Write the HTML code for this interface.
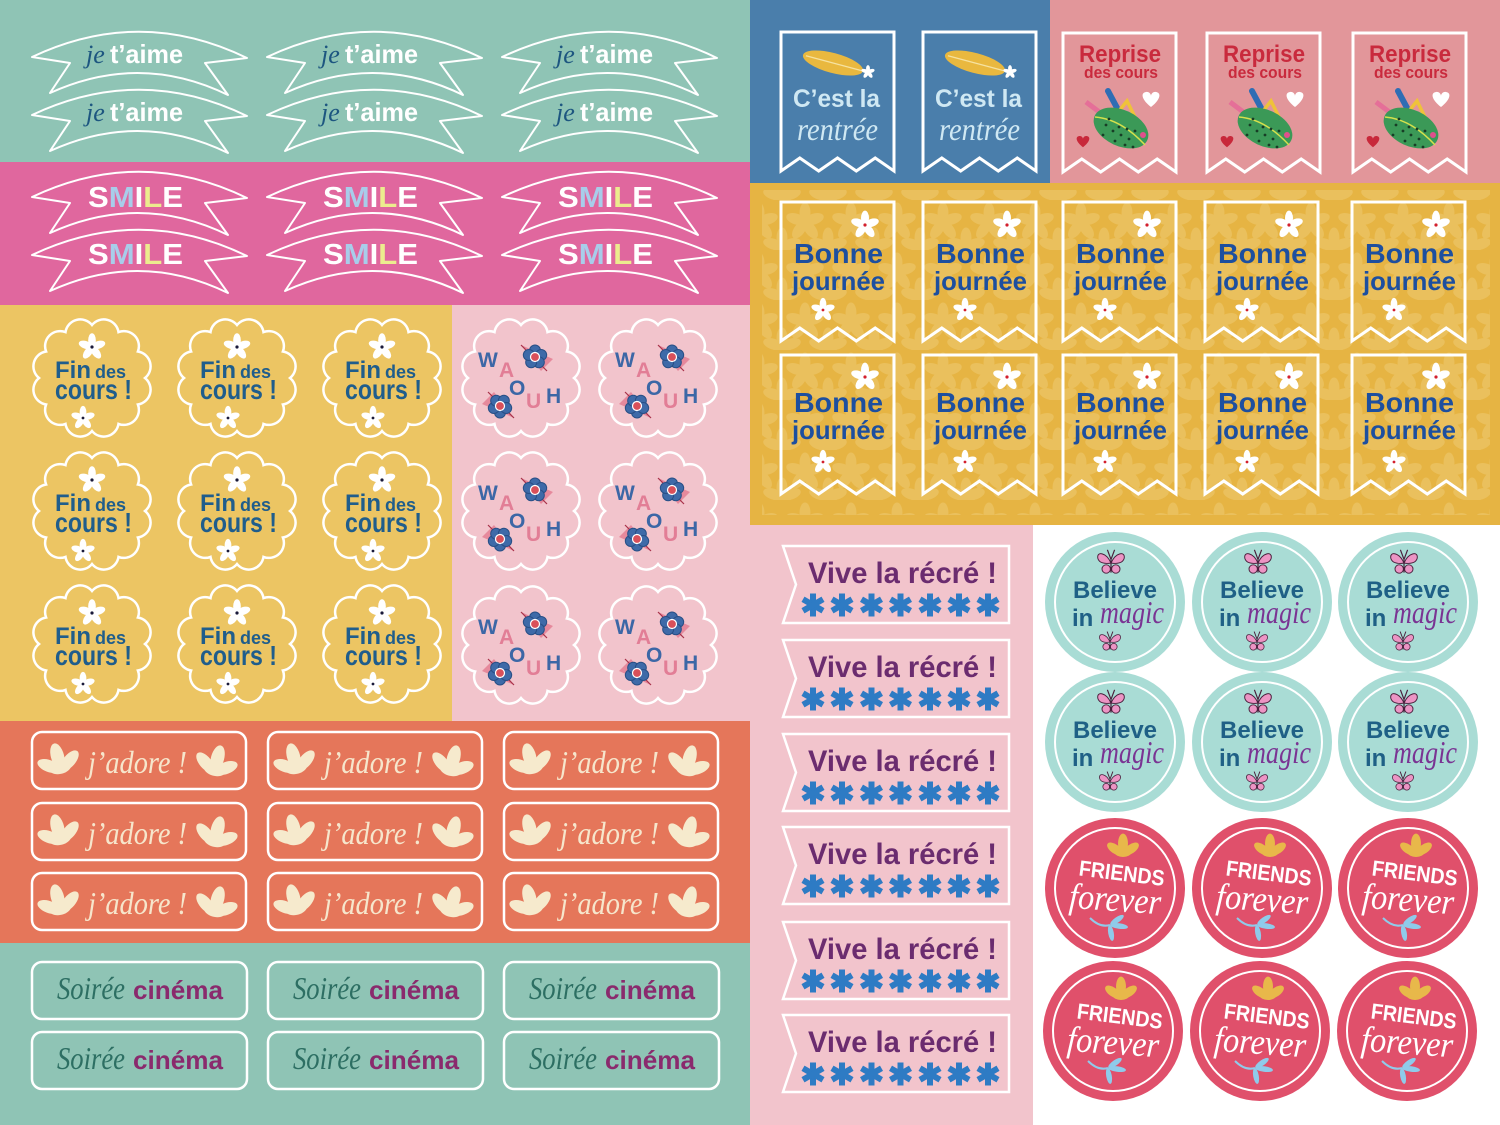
<!DOCTYPE html>
<html><head><meta charset="utf-8"><style>
html,body{margin:0;padding:0;background:#fff}
svg{display:block}
text{font-family:"Liberation Sans",sans-serif}
.b{font-weight:bold}
.s{font-family:"Liberation Serif",serif;font-style:italic}
</style></head><body>
<svg width="1500" height="1125" viewBox="0 0 1500 1125" xmlns="http://www.w3.org/2000/svg" xmlns:xlink="http://www.w3.org/1999/xlink">
<defs>
<path id="ban" d="M32,57 Q140,6 247,58 L205,63 L228,95 Q140,52 50,93 L70,63 Z" fill="none" stroke="#fff" stroke-width="2" stroke-linejoin="round"/>
<path id="sc" d="M53,0 A15,15 0 0 1 45.9,26.5 A15,15 0 0 1 26.5,45.9 A15,15 0 0 1 0,53 A15,15 0 0 1 -26.5,45.9 A15,15 0 0 1 -45.9,26.5 A15,15 0 0 1 -53,0 A15,15 0 0 1 -45.9,-26.5 A15,15 0 0 1 -26.5,-45.9 A15,15 0 0 1 0,-53 A15,15 0 0 1 26.5,-45.9 A15,15 0 0 1 45.9,-26.5 A15,15 0 0 1 53,0 Z" fill="none" stroke="#fff" stroke-width="2.5"/>
<g id="pet">
<ellipse cx="0" cy="-5.5" rx="3.2" ry="6"/>
<ellipse cx="0" cy="-5.5" rx="3.2" ry="6" transform="rotate(72)"/>
<ellipse cx="0" cy="-5.5" rx="3.2" ry="6" transform="rotate(144)"/>
<ellipse cx="0" cy="-5.5" rx="3.2" ry="6" transform="rotate(216)"/>
<ellipse cx="0" cy="-5.5" rx="3.2" ry="6" transform="rotate(288)"/>
</g>
<path id="tag" d="M0,0 H113 V139 L94.2,126 L75.3,139 L56.5,126 L37.7,139 L18.8,126 L0,139 Z" stroke="#fff" stroke-width="3"/>
<g id="lf">
<ellipse cx="0" cy="-5" rx="5.5" ry="11"/>
<ellipse cx="-9" cy="1" rx="5" ry="10" transform="rotate(-55 -9 1)"/>
<ellipse cx="9" cy="1" rx="5" ry="10" transform="rotate(55 9 1)"/>
<ellipse cx="0" cy="5" rx="9" ry="5"/>
</g>
<g id="bf">
<path d="M-14,-12 L18,2 L6,14 Z" fill="#e6899c"/>
<line x1="-14" y1="-12" x2="12" y2="14" stroke="#a8324a" stroke-width="1.2"/>
<g fill="#3e6aa8" stroke="#284f86" stroke-width="1">
<circle cx="0" cy="-6.5" r="5.5"/><circle cx="6.18" cy="-2.01" r="5.5"/><circle cx="3.82" cy="5.26" r="5.5"/><circle cx="-3.82" cy="5.26" r="5.5"/><circle cx="-6.18" cy="-2.01" r="5.5"/>
</g>
<circle r="4.5" fill="#d9505a" stroke="#fff" stroke-width="1.2"/>
</g>
<g id="ast" stroke="#2e7bc4" stroke-width="6"><line x1="0" y1="-11.5" x2="0" y2="11.5"/><line x1="-10" y1="-5.75" x2="10" y2="5.75"/><line x1="-10" y1="5.75" x2="10" y2="-5.75"/></g>
<g id="bt" fill="#ec94c4" stroke="#4a1f3c" stroke-width="0.8">
<path d="M0,0 C-4,-9 -12,-10 -11,-4 C-10,0 -5,1 0,0 Z"/>
<path d="M0,0 C4,-9 12,-10 11,-4 C10,0 5,1 0,0 Z"/>
<circle cx="-4" cy="5" r="3.5"/><circle cx="4" cy="5" r="3.5"/>
<path d="M0,-3 L0,8 M0,-3 L-3,-11 M0,-3 L3,-11" fill="none" stroke-width="1"/>
</g>
<g id="bl" fill="#8fcbea">
<path d="M-20,-7 Q-10,3 0,0" fill="none" stroke="#8fcbea" stroke-width="2"/>
<ellipse cx="7" cy="-5" rx="8" ry="2.8" transform="rotate(-35 7 -5)"/>
<ellipse cx="9" cy="1" rx="9" ry="2.8" transform="rotate(8 9 1)"/>
<ellipse cx="1" cy="8" rx="8" ry="2.8" transform="rotate(80 1 8)"/>
</g>
<path id="hrt" d="M0,7 C-9,0 -11,-7 -5,-8 C-2,-8.5 0,-6 0,-4 C0,-6 2,-8.5 5,-8 C11,-7 9,0 0,7 Z"/>
<g id="pc">
<line x1="-35" y1="-23" x2="-15" y2="-8" stroke="#e56f98" stroke-width="5"/>
<line x1="-13" y1="-34" x2="2" y2="-6" stroke="#2f6db4" stroke-width="6" stroke-linecap="round"/>
<path d="M-10,-4 L6,-24 L16,-4" fill="none" stroke="#efc23a" stroke-width="3.5"/>
<ellipse cx="0" cy="3" rx="29" ry="18" transform="rotate(25 0 3)" fill="#3b9957"/>
<path d="M-26,-8 Q0,-6 24,20" fill="none" stroke="#d6e04c" stroke-width="1.5"/>
<g fill="#173d26"><circle cx="-15" cy="0" r="1.4"/><circle cx="-8" cy="6" r="1.4"/><circle cx="0" cy="10" r="1.4"/><circle cx="8" cy="14" r="1.4"/><circle cx="-18" cy="10" r="1.4"/><circle cx="-6" cy="16" r="1.4"/><circle cx="4" cy="20" r="1.4"/><circle cx="-2" cy="2" r="1.4"/><circle cx="6" cy="4" r="1.4"/><circle cx="14" cy="6" r="1.4"/><circle cx="-12" cy="-6" r="1.4"/><circle cx="12" cy="22" r="1.4"/></g>
<circle cx="22" cy="10" r="3" fill="#e0508c"/>
</g>
<pattern id="palm" width="46" height="50" patternUnits="userSpaceOnUse">
<g fill="#f0cf7c" opacity="0.45">
<use href="#pet" transform="translate(23,22) scale(1.7)"/>
<use href="#pet" transform="translate(0,47) scale(1.7)"/>
<use href="#pet" transform="translate(46,47) scale(1.7)"/>
</g>
</pattern>
</defs>

<!-- backgrounds -->
<rect x="0" y="0" width="750" height="162" fill="#8fc4b5"/>
<rect x="0" y="162" width="750" height="143" fill="#e0679e"/>
<rect x="0" y="305" width="452" height="416" fill="#ecc563"/>
<rect x="452" y="305" width="298" height="416" fill="#f2c4cc"/>
<rect x="0" y="721" width="750" height="222" fill="#e5765a"/>
<rect x="0" y="943" width="750" height="182" fill="#8fc4b5"/>
<rect x="750" y="0" width="300" height="183" fill="#4a7eab"/>
<rect x="1050" y="0" width="450" height="183" fill="#e2969a"/>
<rect x="750" y="183" width="750" height="342" fill="#e6b443"/>
<rect x="762" y="190" width="728" height="325" fill="url(#palm)"/>
<rect x="750" y="525" width="283" height="600" fill="#f2c4cc"/>
<rect x="1033" y="525" width="467" height="600" fill="#ffffff"/>

<!-- je t'aime -->
<use href="#ban" x="0" y="0"/><use href="#ban" x="235" y="0"/><use href="#ban" x="470" y="0"/>
<use href="#ban" x="0" y="58"/><use href="#ban" x="235" y="58"/><use href="#ban" x="470" y="58"/>
<text class="s" x="86" y="63" font-size="26" fill="#1d5680">je</text>
<text class="b" x="110" y="63" font-size="26" fill="#fff" textLength="73" lengthAdjust="spacingAndGlyphs">t’aime</text>
<text class="s" x="321" y="63" font-size="26" fill="#1d5680">je</text>
<text class="b" x="345" y="63" font-size="26" fill="#fff" textLength="73" lengthAdjust="spacingAndGlyphs">t’aime</text>
<text class="s" x="556" y="63" font-size="26" fill="#1d5680">je</text>
<text class="b" x="580" y="63" font-size="26" fill="#fff" textLength="73" lengthAdjust="spacingAndGlyphs">t’aime</text>
<text class="s" x="86" y="121" font-size="26" fill="#1d5680">je</text>
<text class="b" x="110" y="121" font-size="26" fill="#fff" textLength="73" lengthAdjust="spacingAndGlyphs">t’aime</text>
<text class="s" x="321" y="121" font-size="26" fill="#1d5680">je</text>
<text class="b" x="345" y="121" font-size="26" fill="#fff" textLength="73" lengthAdjust="spacingAndGlyphs">t’aime</text>
<text class="s" x="556" y="121" font-size="26" fill="#1d5680">je</text>
<text class="b" x="580" y="121" font-size="26" fill="#fff" textLength="73" lengthAdjust="spacingAndGlyphs">t’aime</text>

<!-- SMILE -->
<use href="#ban" x="0" y="140"/><use href="#ban" x="235" y="140"/><use href="#ban" x="470" y="140"/>
<use href="#ban" x="0" y="198"/><use href="#ban" x="235" y="198"/><use href="#ban" x="470" y="198"/>
<text class="b" x="88" y="207" font-size="29" textLength="95" lengthAdjust="spacingAndGlyphs"><tspan fill="#fff">S</tspan><tspan fill="#a8cdea">M</tspan><tspan fill="#fff">I</tspan><tspan fill="#ecec8e">L</tspan><tspan fill="#fff">E</tspan></text>
<text class="b" x="323" y="207" font-size="29" textLength="95" lengthAdjust="spacingAndGlyphs"><tspan fill="#fff">S</tspan><tspan fill="#a8cdea">M</tspan><tspan fill="#fff">I</tspan><tspan fill="#ecec8e">L</tspan><tspan fill="#fff">E</tspan></text>
<text class="b" x="558" y="207" font-size="29" textLength="95" lengthAdjust="spacingAndGlyphs"><tspan fill="#fff">S</tspan><tspan fill="#a8cdea">M</tspan><tspan fill="#fff">I</tspan><tspan fill="#ecec8e">L</tspan><tspan fill="#fff">E</tspan></text>
<text class="b" x="88" y="264" font-size="29" textLength="95" lengthAdjust="spacingAndGlyphs"><tspan fill="#fff">S</tspan><tspan fill="#a8cdea">M</tspan><tspan fill="#fff">I</tspan><tspan fill="#ecec8e">L</tspan><tspan fill="#fff">E</tspan></text>
<text class="b" x="323" y="264" font-size="29" textLength="95" lengthAdjust="spacingAndGlyphs"><tspan fill="#fff">S</tspan><tspan fill="#a8cdea">M</tspan><tspan fill="#fff">I</tspan><tspan fill="#ecec8e">L</tspan><tspan fill="#fff">E</tspan></text>
<text class="b" x="558" y="264" font-size="29" textLength="95" lengthAdjust="spacingAndGlyphs"><tspan fill="#fff">S</tspan><tspan fill="#a8cdea">M</tspan><tspan fill="#fff">I</tspan><tspan fill="#ecec8e">L</tspan><tspan fill="#fff">E</tspan></text>

<!-- Fin des cours -->
<g transform="translate(92,378)"><use href="#sc"/><use href="#pet" fill="#fff" transform="translate(0,-31) scale(1.2)"/><circle cx="0" cy="-31" r="1.6" fill="#1a1a3a"/><use href="#pet" fill="#fff" transform="translate(-9,40) scale(1.05)"/><circle cx="-9" cy="40" r="1.4" fill="#1a1a3a"/><text class="b" x="-37" y="0" font-size="24" fill="#1f5d8c">Fin</text><text class="b" x="3" y="0" font-size="18" fill="#1f5d8c">des</text><text class="b" x="-37" y="21" font-size="28" fill="#1f5d8c" textLength="77" lengthAdjust="spacingAndGlyphs">cours !</text></g>
<g transform="translate(237,378)"><use href="#sc"/><use href="#pet" fill="#fff" transform="translate(0,-31) scale(1.2)"/><circle cx="0" cy="-31" r="1.6" fill="#1a1a3a"/><use href="#pet" fill="#fff" transform="translate(-9,40) scale(1.05)"/><circle cx="-9" cy="40" r="1.4" fill="#1a1a3a"/><text class="b" x="-37" y="0" font-size="24" fill="#1f5d8c">Fin</text><text class="b" x="3" y="0" font-size="18" fill="#1f5d8c">des</text><text class="b" x="-37" y="21" font-size="28" fill="#1f5d8c" textLength="77" lengthAdjust="spacingAndGlyphs">cours !</text></g>
<g transform="translate(382,378)"><use href="#sc"/><use href="#pet" fill="#fff" transform="translate(0,-31) scale(1.2)"/><circle cx="0" cy="-31" r="1.6" fill="#1a1a3a"/><use href="#pet" fill="#fff" transform="translate(-9,40) scale(1.05)"/><circle cx="-9" cy="40" r="1.4" fill="#1a1a3a"/><text class="b" x="-37" y="0" font-size="24" fill="#1f5d8c">Fin</text><text class="b" x="3" y="0" font-size="18" fill="#1f5d8c">des</text><text class="b" x="-37" y="21" font-size="28" fill="#1f5d8c" textLength="77" lengthAdjust="spacingAndGlyphs">cours !</text></g>
<g transform="translate(92,511)"><use href="#sc"/><use href="#pet" fill="#fff" transform="translate(0,-31) scale(1.2)"/><circle cx="0" cy="-31" r="1.6" fill="#1a1a3a"/><use href="#pet" fill="#fff" transform="translate(-9,40) scale(1.05)"/><circle cx="-9" cy="40" r="1.4" fill="#1a1a3a"/><text class="b" x="-37" y="0" font-size="24" fill="#1f5d8c">Fin</text><text class="b" x="3" y="0" font-size="18" fill="#1f5d8c">des</text><text class="b" x="-37" y="21" font-size="28" fill="#1f5d8c" textLength="77" lengthAdjust="spacingAndGlyphs">cours !</text></g>
<g transform="translate(237,511)"><use href="#sc"/><use href="#pet" fill="#fff" transform="translate(0,-31) scale(1.2)"/><circle cx="0" cy="-31" r="1.6" fill="#1a1a3a"/><use href="#pet" fill="#fff" transform="translate(-9,40) scale(1.05)"/><circle cx="-9" cy="40" r="1.4" fill="#1a1a3a"/><text class="b" x="-37" y="0" font-size="24" fill="#1f5d8c">Fin</text><text class="b" x="3" y="0" font-size="18" fill="#1f5d8c">des</text><text class="b" x="-37" y="21" font-size="28" fill="#1f5d8c" textLength="77" lengthAdjust="spacingAndGlyphs">cours !</text></g>
<g transform="translate(382,511)"><use href="#sc"/><use href="#pet" fill="#fff" transform="translate(0,-31) scale(1.2)"/><circle cx="0" cy="-31" r="1.6" fill="#1a1a3a"/><use href="#pet" fill="#fff" transform="translate(-9,40) scale(1.05)"/><circle cx="-9" cy="40" r="1.4" fill="#1a1a3a"/><text class="b" x="-37" y="0" font-size="24" fill="#1f5d8c">Fin</text><text class="b" x="3" y="0" font-size="18" fill="#1f5d8c">des</text><text class="b" x="-37" y="21" font-size="28" fill="#1f5d8c" textLength="77" lengthAdjust="spacingAndGlyphs">cours !</text></g>
<g transform="translate(92,644)"><use href="#sc"/><use href="#pet" fill="#fff" transform="translate(0,-31) scale(1.2)"/><circle cx="0" cy="-31" r="1.6" fill="#1a1a3a"/><use href="#pet" fill="#fff" transform="translate(-9,40) scale(1.05)"/><circle cx="-9" cy="40" r="1.4" fill="#1a1a3a"/><text class="b" x="-37" y="0" font-size="24" fill="#1f5d8c">Fin</text><text class="b" x="3" y="0" font-size="18" fill="#1f5d8c">des</text><text class="b" x="-37" y="21" font-size="28" fill="#1f5d8c" textLength="77" lengthAdjust="spacingAndGlyphs">cours !</text></g>
<g transform="translate(237,644)"><use href="#sc"/><use href="#pet" fill="#fff" transform="translate(0,-31) scale(1.2)"/><circle cx="0" cy="-31" r="1.6" fill="#1a1a3a"/><use href="#pet" fill="#fff" transform="translate(-9,40) scale(1.05)"/><circle cx="-9" cy="40" r="1.4" fill="#1a1a3a"/><text class="b" x="-37" y="0" font-size="24" fill="#1f5d8c">Fin</text><text class="b" x="3" y="0" font-size="18" fill="#1f5d8c">des</text><text class="b" x="-37" y="21" font-size="28" fill="#1f5d8c" textLength="77" lengthAdjust="spacingAndGlyphs">cours !</text></g>
<g transform="translate(382,644)"><use href="#sc"/><use href="#pet" fill="#fff" transform="translate(0,-31) scale(1.2)"/><circle cx="0" cy="-31" r="1.6" fill="#1a1a3a"/><use href="#pet" fill="#fff" transform="translate(-9,40) scale(1.05)"/><circle cx="-9" cy="40" r="1.4" fill="#1a1a3a"/><text class="b" x="-37" y="0" font-size="24" fill="#1f5d8c">Fin</text><text class="b" x="3" y="0" font-size="18" fill="#1f5d8c">des</text><text class="b" x="-37" y="21" font-size="28" fill="#1f5d8c" textLength="77" lengthAdjust="spacingAndGlyphs">cours !</text></g>

<!-- WAOUH -->
<g transform="translate(521,378)"><use href="#sc"/><use href="#bf" transform="translate(14,-21)"/><use href="#bf" transform="translate(-21,28) rotate(180)"/><text class="b" font-size="21" fill="#3c67a6" x="-43" y="-11">W</text><text class="b" font-size="21" fill="#e27e96" x="-22" y="-1">A</text><text class="b" font-size="21" fill="#3c67a6" x="-12" y="17">O</text><text class="b" font-size="21" fill="#e27e96" x="5" y="30">U</text><text class="b" font-size="21" fill="#3c67a6" x="25" y="25">H</text></g>
<g transform="translate(658,378)"><use href="#sc"/><use href="#bf" transform="translate(14,-21)"/><use href="#bf" transform="translate(-21,28) rotate(180)"/><text class="b" font-size="21" fill="#3c67a6" x="-43" y="-11">W</text><text class="b" font-size="21" fill="#e27e96" x="-22" y="-1">A</text><text class="b" font-size="21" fill="#3c67a6" x="-12" y="17">O</text><text class="b" font-size="21" fill="#e27e96" x="5" y="30">U</text><text class="b" font-size="21" fill="#3c67a6" x="25" y="25">H</text></g>
<g transform="translate(521,511)"><use href="#sc"/><use href="#bf" transform="translate(14,-21)"/><use href="#bf" transform="translate(-21,28) rotate(180)"/><text class="b" font-size="21" fill="#3c67a6" x="-43" y="-11">W</text><text class="b" font-size="21" fill="#e27e96" x="-22" y="-1">A</text><text class="b" font-size="21" fill="#3c67a6" x="-12" y="17">O</text><text class="b" font-size="21" fill="#e27e96" x="5" y="30">U</text><text class="b" font-size="21" fill="#3c67a6" x="25" y="25">H</text></g>
<g transform="translate(658,511)"><use href="#sc"/><use href="#bf" transform="translate(14,-21)"/><use href="#bf" transform="translate(-21,28) rotate(180)"/><text class="b" font-size="21" fill="#3c67a6" x="-43" y="-11">W</text><text class="b" font-size="21" fill="#e27e96" x="-22" y="-1">A</text><text class="b" font-size="21" fill="#3c67a6" x="-12" y="17">O</text><text class="b" font-size="21" fill="#e27e96" x="5" y="30">U</text><text class="b" font-size="21" fill="#3c67a6" x="25" y="25">H</text></g>
<g transform="translate(521,645)"><use href="#sc"/><use href="#bf" transform="translate(14,-21)"/><use href="#bf" transform="translate(-21,28) rotate(180)"/><text class="b" font-size="21" fill="#3c67a6" x="-43" y="-11">W</text><text class="b" font-size="21" fill="#e27e96" x="-22" y="-1">A</text><text class="b" font-size="21" fill="#3c67a6" x="-12" y="17">O</text><text class="b" font-size="21" fill="#e27e96" x="5" y="30">U</text><text class="b" font-size="21" fill="#3c67a6" x="25" y="25">H</text></g>
<g transform="translate(658,645)"><use href="#sc"/><use href="#bf" transform="translate(14,-21)"/><use href="#bf" transform="translate(-21,28) rotate(180)"/><text class="b" font-size="21" fill="#3c67a6" x="-43" y="-11">W</text><text class="b" font-size="21" fill="#e27e96" x="-22" y="-1">A</text><text class="b" font-size="21" fill="#3c67a6" x="-12" y="17">O</text><text class="b" font-size="21" fill="#e27e96" x="5" y="30">U</text><text class="b" font-size="21" fill="#3c67a6" x="25" y="25">H</text></g>

<!-- j'adore -->
<g transform="translate(32,732)"><rect width="214" height="57" rx="10" fill="none" stroke="#fff" stroke-width="2.5"/><use href="#lf" fill="#f6eacd" transform="translate(27,30) rotate(-15) scale(1.2)"/><use href="#lf" fill="#f6eacd" transform="translate(184,32) rotate(15) scale(1.2)"/><text class="s" x="56" y="41" font-size="32" fill="#f6e6cc" textLength="99" lengthAdjust="spacingAndGlyphs">j’adore !</text></g>
<g transform="translate(268,732)"><rect width="214" height="57" rx="10" fill="none" stroke="#fff" stroke-width="2.5"/><use href="#lf" fill="#f6eacd" transform="translate(27,30) rotate(-15) scale(1.2)"/><use href="#lf" fill="#f6eacd" transform="translate(184,32) rotate(15) scale(1.2)"/><text class="s" x="56" y="41" font-size="32" fill="#f6e6cc" textLength="99" lengthAdjust="spacingAndGlyphs">j’adore !</text></g>
<g transform="translate(504,732)"><rect width="214" height="57" rx="10" fill="none" stroke="#fff" stroke-width="2.5"/><use href="#lf" fill="#f6eacd" transform="translate(27,30) rotate(-15) scale(1.2)"/><use href="#lf" fill="#f6eacd" transform="translate(184,32) rotate(15) scale(1.2)"/><text class="s" x="56" y="41" font-size="32" fill="#f6e6cc" textLength="99" lengthAdjust="spacingAndGlyphs">j’adore !</text></g>
<g transform="translate(32,803)"><rect width="214" height="57" rx="10" fill="none" stroke="#fff" stroke-width="2.5"/><use href="#lf" fill="#f6eacd" transform="translate(27,30) rotate(-15) scale(1.2)"/><use href="#lf" fill="#f6eacd" transform="translate(184,32) rotate(15) scale(1.2)"/><text class="s" x="56" y="41" font-size="32" fill="#f6e6cc" textLength="99" lengthAdjust="spacingAndGlyphs">j’adore !</text></g>
<g transform="translate(268,803)"><rect width="214" height="57" rx="10" fill="none" stroke="#fff" stroke-width="2.5"/><use href="#lf" fill="#f6eacd" transform="translate(27,30) rotate(-15) scale(1.2)"/><use href="#lf" fill="#f6eacd" transform="translate(184,32) rotate(15) scale(1.2)"/><text class="s" x="56" y="41" font-size="32" fill="#f6e6cc" textLength="99" lengthAdjust="spacingAndGlyphs">j’adore !</text></g>
<g transform="translate(504,803)"><rect width="214" height="57" rx="10" fill="none" stroke="#fff" stroke-width="2.5"/><use href="#lf" fill="#f6eacd" transform="translate(27,30) rotate(-15) scale(1.2)"/><use href="#lf" fill="#f6eacd" transform="translate(184,32) rotate(15) scale(1.2)"/><text class="s" x="56" y="41" font-size="32" fill="#f6e6cc" textLength="99" lengthAdjust="spacingAndGlyphs">j’adore !</text></g>
<g transform="translate(32,873)"><rect width="214" height="57" rx="10" fill="none" stroke="#fff" stroke-width="2.5"/><use href="#lf" fill="#f6eacd" transform="translate(27,30) rotate(-15) scale(1.2)"/><use href="#lf" fill="#f6eacd" transform="translate(184,32) rotate(15) scale(1.2)"/><text class="s" x="56" y="41" font-size="32" fill="#f6e6cc" textLength="99" lengthAdjust="spacingAndGlyphs">j’adore !</text></g>
<g transform="translate(268,873)"><rect width="214" height="57" rx="10" fill="none" stroke="#fff" stroke-width="2.5"/><use href="#lf" fill="#f6eacd" transform="translate(27,30) rotate(-15) scale(1.2)"/><use href="#lf" fill="#f6eacd" transform="translate(184,32) rotate(15) scale(1.2)"/><text class="s" x="56" y="41" font-size="32" fill="#f6e6cc" textLength="99" lengthAdjust="spacingAndGlyphs">j’adore !</text></g>
<g transform="translate(504,873)"><rect width="214" height="57" rx="10" fill="none" stroke="#fff" stroke-width="2.5"/><use href="#lf" fill="#f6eacd" transform="translate(27,30) rotate(-15) scale(1.2)"/><use href="#lf" fill="#f6eacd" transform="translate(184,32) rotate(15) scale(1.2)"/><text class="s" x="56" y="41" font-size="32" fill="#f6e6cc" textLength="99" lengthAdjust="spacingAndGlyphs">j’adore !</text></g>

<!-- Soirée cinéma -->
<g transform="translate(32,962)"><rect width="215" height="57" rx="10" fill="none" stroke="#fff" stroke-width="2.5"/><text class="s" x="25" y="37" font-size="32" fill="#2d6f63" textLength="68" lengthAdjust="spacingAndGlyphs">Soirée</text><text class="b" x="101" y="37" font-size="26" fill="#8a2a6d" textLength="90" lengthAdjust="spacingAndGlyphs">cinéma</text></g>
<g transform="translate(268,962)"><rect width="215" height="57" rx="10" fill="none" stroke="#fff" stroke-width="2.5"/><text class="s" x="25" y="37" font-size="32" fill="#2d6f63" textLength="68" lengthAdjust="spacingAndGlyphs">Soirée</text><text class="b" x="101" y="37" font-size="26" fill="#8a2a6d" textLength="90" lengthAdjust="spacingAndGlyphs">cinéma</text></g>
<g transform="translate(504,962)"><rect width="215" height="57" rx="10" fill="none" stroke="#fff" stroke-width="2.5"/><text class="s" x="25" y="37" font-size="32" fill="#2d6f63" textLength="68" lengthAdjust="spacingAndGlyphs">Soirée</text><text class="b" x="101" y="37" font-size="26" fill="#8a2a6d" textLength="90" lengthAdjust="spacingAndGlyphs">cinéma</text></g>
<g transform="translate(32,1032)"><rect width="215" height="57" rx="10" fill="none" stroke="#fff" stroke-width="2.5"/><text class="s" x="25" y="37" font-size="32" fill="#2d6f63" textLength="68" lengthAdjust="spacingAndGlyphs">Soirée</text><text class="b" x="101" y="37" font-size="26" fill="#8a2a6d" textLength="90" lengthAdjust="spacingAndGlyphs">cinéma</text></g>
<g transform="translate(268,1032)"><rect width="215" height="57" rx="10" fill="none" stroke="#fff" stroke-width="2.5"/><text class="s" x="25" y="37" font-size="32" fill="#2d6f63" textLength="68" lengthAdjust="spacingAndGlyphs">Soirée</text><text class="b" x="101" y="37" font-size="26" fill="#8a2a6d" textLength="90" lengthAdjust="spacingAndGlyphs">cinéma</text></g>
<g transform="translate(504,1032)"><rect width="215" height="57" rx="10" fill="none" stroke="#fff" stroke-width="2.5"/><text class="s" x="25" y="37" font-size="32" fill="#2d6f63" textLength="68" lengthAdjust="spacingAndGlyphs">Soirée</text><text class="b" x="101" y="37" font-size="26" fill="#8a2a6d" textLength="90" lengthAdjust="spacingAndGlyphs">cinéma</text></g>

<!-- C'est la rentrée -->
<g transform="translate(781,32)"><use href="#tag" fill="#4a7eab"/><g transform="translate(52,31) rotate(15)"><ellipse rx="31" ry="10" fill="#e9b83f"/><path d="M-28,0 L30,0" stroke="#f6e2a0" stroke-width="1.2"/></g><use href="#pet" fill="#fff" transform="translate(87,40) scale(0.6)"/><text class="b" x="12" y="75" font-size="25" fill="#cfe8f3" textLength="87" lengthAdjust="spacingAndGlyphs">C’est la</text><text class="s" x="16" y="108" font-size="32" fill="#cfe8f3" textLength="81" lengthAdjust="spacingAndGlyphs">rentrée</text></g>
<g transform="translate(923,32)"><use href="#tag" fill="#4a7eab"/><g transform="translate(52,31) rotate(15)"><ellipse rx="31" ry="10" fill="#e9b83f"/><path d="M-28,0 L30,0" stroke="#f6e2a0" stroke-width="1.2"/></g><use href="#pet" fill="#fff" transform="translate(87,40) scale(0.6)"/><text class="b" x="12" y="75" font-size="25" fill="#cfe8f3" textLength="87" lengthAdjust="spacingAndGlyphs">C’est la</text><text class="s" x="16" y="108" font-size="32" fill="#cfe8f3" textLength="81" lengthAdjust="spacingAndGlyphs">rentrée</text></g>

<!-- Reprise des cours -->
<g transform="translate(1063,33)"><use href="#tag" fill="#e2969a"/><text class="b" x="16" y="29" font-size="24" fill="#c92a3d" textLength="82" lengthAdjust="spacingAndGlyphs">Reprise</text><text class="b" x="21" y="45" font-size="17" fill="#c92a3d" textLength="74" lengthAdjust="spacingAndGlyphs">des cours</text><use href="#pc" transform="translate(58,92)"/><use href="#hrt" fill="#fff" transform="translate(88,67)"/><use href="#hrt" fill="#c8283a" transform="translate(20,109) scale(0.75)"/></g>
<g transform="translate(1207,33)"><use href="#tag" fill="#e2969a"/><text class="b" x="16" y="29" font-size="24" fill="#c92a3d" textLength="82" lengthAdjust="spacingAndGlyphs">Reprise</text><text class="b" x="21" y="45" font-size="17" fill="#c92a3d" textLength="74" lengthAdjust="spacingAndGlyphs">des cours</text><use href="#pc" transform="translate(58,92)"/><use href="#hrt" fill="#fff" transform="translate(88,67)"/><use href="#hrt" fill="#c8283a" transform="translate(20,109) scale(0.75)"/></g>
<g transform="translate(1353,33)"><use href="#tag" fill="#e2969a"/><text class="b" x="16" y="29" font-size="24" fill="#c92a3d" textLength="82" lengthAdjust="spacingAndGlyphs">Reprise</text><text class="b" x="21" y="45" font-size="17" fill="#c92a3d" textLength="74" lengthAdjust="spacingAndGlyphs">des cours</text><use href="#pc" transform="translate(58,92)"/><use href="#hrt" fill="#fff" transform="translate(88,67)"/><use href="#hrt" fill="#c8283a" transform="translate(20,109) scale(0.75)"/></g>

<!-- Bonne journée -->
<g transform="translate(781,202)"><use href="#tag" fill="none"/><use href="#pet" fill="#fff" transform="translate(84,23) scale(1.25)"/><circle cx="84" cy="23" r="1.6" fill="#d3202e"/><use href="#pet" fill="#fff" transform="translate(42,108) scale(1.05)"/><circle cx="42" cy="108" r="1.4" fill="#d3202e"/><text class="b" x="13" y="61" font-size="28" fill="#1d4f9f" textLength="89" lengthAdjust="spacingAndGlyphs">Bonne</text><text class="b" x="11" y="88" font-size="26" fill="#1d4f9f" textLength="93" lengthAdjust="spacingAndGlyphs">journée</text></g>
<g transform="translate(923,202)"><use href="#tag" fill="none"/><use href="#pet" fill="#fff" transform="translate(84,23) scale(1.25)"/><circle cx="84" cy="23" r="1.6" fill="#d3202e"/><use href="#pet" fill="#fff" transform="translate(42,108) scale(1.05)"/><circle cx="42" cy="108" r="1.4" fill="#d3202e"/><text class="b" x="13" y="61" font-size="28" fill="#1d4f9f" textLength="89" lengthAdjust="spacingAndGlyphs">Bonne</text><text class="b" x="11" y="88" font-size="26" fill="#1d4f9f" textLength="93" lengthAdjust="spacingAndGlyphs">journée</text></g>
<g transform="translate(1063,202)"><use href="#tag" fill="none"/><use href="#pet" fill="#fff" transform="translate(84,23) scale(1.25)"/><circle cx="84" cy="23" r="1.6" fill="#d3202e"/><use href="#pet" fill="#fff" transform="translate(42,108) scale(1.05)"/><circle cx="42" cy="108" r="1.4" fill="#d3202e"/><text class="b" x="13" y="61" font-size="28" fill="#1d4f9f" textLength="89" lengthAdjust="spacingAndGlyphs">Bonne</text><text class="b" x="11" y="88" font-size="26" fill="#1d4f9f" textLength="93" lengthAdjust="spacingAndGlyphs">journée</text></g>
<g transform="translate(1205,202)"><use href="#tag" fill="none"/><use href="#pet" fill="#fff" transform="translate(84,23) scale(1.25)"/><circle cx="84" cy="23" r="1.6" fill="#d3202e"/><use href="#pet" fill="#fff" transform="translate(42,108) scale(1.05)"/><circle cx="42" cy="108" r="1.4" fill="#d3202e"/><text class="b" x="13" y="61" font-size="28" fill="#1d4f9f" textLength="89" lengthAdjust="spacingAndGlyphs">Bonne</text><text class="b" x="11" y="88" font-size="26" fill="#1d4f9f" textLength="93" lengthAdjust="spacingAndGlyphs">journée</text></g>
<g transform="translate(1352,202)"><use href="#tag" fill="none"/><use href="#pet" fill="#fff" transform="translate(84,23) scale(1.25)"/><circle cx="84" cy="23" r="1.6" fill="#d3202e"/><use href="#pet" fill="#fff" transform="translate(42,108) scale(1.05)"/><circle cx="42" cy="108" r="1.4" fill="#d3202e"/><text class="b" x="13" y="61" font-size="28" fill="#1d4f9f" textLength="89" lengthAdjust="spacingAndGlyphs">Bonne</text><text class="b" x="11" y="88" font-size="26" fill="#1d4f9f" textLength="93" lengthAdjust="spacingAndGlyphs">journée</text></g>
<g transform="translate(781,355)"><use href="#tag" fill="none"/><use href="#pet" fill="#fff" transform="translate(84,22) scale(1.25)"/><circle cx="84" cy="22" r="1.6" fill="#d3202e"/><use href="#pet" fill="#fff" transform="translate(42,107) scale(1.05)"/><circle cx="42" cy="107" r="1.4" fill="#d3202e"/><text class="b" x="13" y="57" font-size="28" fill="#1d4f9f" textLength="89" lengthAdjust="spacingAndGlyphs">Bonne</text><text class="b" x="11" y="84" font-size="26" fill="#1d4f9f" textLength="93" lengthAdjust="spacingAndGlyphs">journée</text></g>
<g transform="translate(923,355)"><use href="#tag" fill="none"/><use href="#pet" fill="#fff" transform="translate(84,22) scale(1.25)"/><circle cx="84" cy="22" r="1.6" fill="#d3202e"/><use href="#pet" fill="#fff" transform="translate(42,107) scale(1.05)"/><circle cx="42" cy="107" r="1.4" fill="#d3202e"/><text class="b" x="13" y="57" font-size="28" fill="#1d4f9f" textLength="89" lengthAdjust="spacingAndGlyphs">Bonne</text><text class="b" x="11" y="84" font-size="26" fill="#1d4f9f" textLength="93" lengthAdjust="spacingAndGlyphs">journée</text></g>
<g transform="translate(1063,355)"><use href="#tag" fill="none"/><use href="#pet" fill="#fff" transform="translate(84,22) scale(1.25)"/><circle cx="84" cy="22" r="1.6" fill="#d3202e"/><use href="#pet" fill="#fff" transform="translate(42,107) scale(1.05)"/><circle cx="42" cy="107" r="1.4" fill="#d3202e"/><text class="b" x="13" y="57" font-size="28" fill="#1d4f9f" textLength="89" lengthAdjust="spacingAndGlyphs">Bonne</text><text class="b" x="11" y="84" font-size="26" fill="#1d4f9f" textLength="93" lengthAdjust="spacingAndGlyphs">journée</text></g>
<g transform="translate(1205,355)"><use href="#tag" fill="none"/><use href="#pet" fill="#fff" transform="translate(84,22) scale(1.25)"/><circle cx="84" cy="22" r="1.6" fill="#d3202e"/><use href="#pet" fill="#fff" transform="translate(42,107) scale(1.05)"/><circle cx="42" cy="107" r="1.4" fill="#d3202e"/><text class="b" x="13" y="57" font-size="28" fill="#1d4f9f" textLength="89" lengthAdjust="spacingAndGlyphs">Bonne</text><text class="b" x="11" y="84" font-size="26" fill="#1d4f9f" textLength="93" lengthAdjust="spacingAndGlyphs">journée</text></g>
<g transform="translate(1352,355)"><use href="#tag" fill="none"/><use href="#pet" fill="#fff" transform="translate(84,22) scale(1.25)"/><circle cx="84" cy="22" r="1.6" fill="#d3202e"/><use href="#pet" fill="#fff" transform="translate(42,107) scale(1.05)"/><circle cx="42" cy="107" r="1.4" fill="#d3202e"/><text class="b" x="13" y="57" font-size="28" fill="#1d4f9f" textLength="89" lengthAdjust="spacingAndGlyphs">Bonne</text><text class="b" x="11" y="84" font-size="26" fill="#1d4f9f" textLength="93" lengthAdjust="spacingAndGlyphs">journée</text></g>

<!-- Vive la récré -->
<g transform="translate(0,546)"><path d="M783,0 H1009 V77 H783 L796,38.5 Z" fill="none" stroke="#fff" stroke-width="2.5"/><text class="b" x="808" y="37" font-size="30" fill="#6b2c6f" textLength="189" lengthAdjust="spacingAndGlyphs">Vive la récré !</text><use href="#ast" x="813" y="59"/><use href="#ast" x="842" y="59"/><use href="#ast" x="871.5" y="59"/><use href="#ast" x="900.5" y="59"/><use href="#ast" x="930" y="59"/><use href="#ast" x="959" y="59"/><use href="#ast" x="988" y="59"/></g>
<g transform="translate(0,640)"><path d="M783,0 H1009 V77 H783 L796,38.5 Z" fill="none" stroke="#fff" stroke-width="2.5"/><text class="b" x="808" y="37" font-size="30" fill="#6b2c6f" textLength="189" lengthAdjust="spacingAndGlyphs">Vive la récré !</text><use href="#ast" x="813" y="59"/><use href="#ast" x="842" y="59"/><use href="#ast" x="871.5" y="59"/><use href="#ast" x="900.5" y="59"/><use href="#ast" x="930" y="59"/><use href="#ast" x="959" y="59"/><use href="#ast" x="988" y="59"/></g>
<g transform="translate(0,734)"><path d="M783,0 H1009 V77 H783 L796,38.5 Z" fill="none" stroke="#fff" stroke-width="2.5"/><text class="b" x="808" y="37" font-size="30" fill="#6b2c6f" textLength="189" lengthAdjust="spacingAndGlyphs">Vive la récré !</text><use href="#ast" x="813" y="59"/><use href="#ast" x="842" y="59"/><use href="#ast" x="871.5" y="59"/><use href="#ast" x="900.5" y="59"/><use href="#ast" x="930" y="59"/><use href="#ast" x="959" y="59"/><use href="#ast" x="988" y="59"/></g>
<g transform="translate(0,827)"><path d="M783,0 H1009 V77 H783 L796,38.5 Z" fill="none" stroke="#fff" stroke-width="2.5"/><text class="b" x="808" y="37" font-size="30" fill="#6b2c6f" textLength="189" lengthAdjust="spacingAndGlyphs">Vive la récré !</text><use href="#ast" x="813" y="59"/><use href="#ast" x="842" y="59"/><use href="#ast" x="871.5" y="59"/><use href="#ast" x="900.5" y="59"/><use href="#ast" x="930" y="59"/><use href="#ast" x="959" y="59"/><use href="#ast" x="988" y="59"/></g>
<g transform="translate(0,922)"><path d="M783,0 H1009 V77 H783 L796,38.5 Z" fill="none" stroke="#fff" stroke-width="2.5"/><text class="b" x="808" y="37" font-size="30" fill="#6b2c6f" textLength="189" lengthAdjust="spacingAndGlyphs">Vive la récré !</text><use href="#ast" x="813" y="59"/><use href="#ast" x="842" y="59"/><use href="#ast" x="871.5" y="59"/><use href="#ast" x="900.5" y="59"/><use href="#ast" x="930" y="59"/><use href="#ast" x="959" y="59"/><use href="#ast" x="988" y="59"/></g>
<g transform="translate(0,1015)"><path d="M783,0 H1009 V77 H783 L796,38.5 Z" fill="none" stroke="#fff" stroke-width="2.5"/><text class="b" x="808" y="37" font-size="30" fill="#6b2c6f" textLength="189" lengthAdjust="spacingAndGlyphs">Vive la récré !</text><use href="#ast" x="813" y="59"/><use href="#ast" x="842" y="59"/><use href="#ast" x="871.5" y="59"/><use href="#ast" x="900.5" y="59"/><use href="#ast" x="930" y="59"/><use href="#ast" x="959" y="59"/><use href="#ast" x="988" y="59"/></g>

<!-- Believe in magic -->
<g transform="translate(1115,602)"><circle r="70" fill="#a9dcd5"/><circle r="60" fill="none" stroke="#fff" stroke-width="2"/><use href="#bt" transform="translate(-4,-39) scale(1.2)"/><use href="#bt" transform="translate(-5,40) scale(0.95)"/><text class="b" x="-42" y="-4" font-size="24" fill="#1f6086" textLength="84" lengthAdjust="spacingAndGlyphs">Believe</text><text class="b" x="-43" y="24" font-size="24" fill="#1f6086">in</text><text class="s" x="-15" y="21" font-size="32" fill="#7a3493" textLength="64" lengthAdjust="spacingAndGlyphs">magic</text></g>
<g transform="translate(1262,602)"><circle r="70" fill="#a9dcd5"/><circle r="60" fill="none" stroke="#fff" stroke-width="2"/><use href="#bt" transform="translate(-4,-39) scale(1.2)"/><use href="#bt" transform="translate(-5,40) scale(0.95)"/><text class="b" x="-42" y="-4" font-size="24" fill="#1f6086" textLength="84" lengthAdjust="spacingAndGlyphs">Believe</text><text class="b" x="-43" y="24" font-size="24" fill="#1f6086">in</text><text class="s" x="-15" y="21" font-size="32" fill="#7a3493" textLength="64" lengthAdjust="spacingAndGlyphs">magic</text></g>
<g transform="translate(1408,602)"><circle r="70" fill="#a9dcd5"/><circle r="60" fill="none" stroke="#fff" stroke-width="2"/><use href="#bt" transform="translate(-4,-39) scale(1.2)"/><use href="#bt" transform="translate(-5,40) scale(0.95)"/><text class="b" x="-42" y="-4" font-size="24" fill="#1f6086" textLength="84" lengthAdjust="spacingAndGlyphs">Believe</text><text class="b" x="-43" y="24" font-size="24" fill="#1f6086">in</text><text class="s" x="-15" y="21" font-size="32" fill="#7a3493" textLength="64" lengthAdjust="spacingAndGlyphs">magic</text></g>
<g transform="translate(1115,742)"><circle r="70" fill="#a9dcd5"/><circle r="60" fill="none" stroke="#fff" stroke-width="2"/><use href="#bt" transform="translate(-4,-39) scale(1.2)"/><use href="#bt" transform="translate(-5,40) scale(0.95)"/><text class="b" x="-42" y="-4" font-size="24" fill="#1f6086" textLength="84" lengthAdjust="spacingAndGlyphs">Believe</text><text class="b" x="-43" y="24" font-size="24" fill="#1f6086">in</text><text class="s" x="-15" y="21" font-size="32" fill="#7a3493" textLength="64" lengthAdjust="spacingAndGlyphs">magic</text></g>
<g transform="translate(1262,742)"><circle r="70" fill="#a9dcd5"/><circle r="60" fill="none" stroke="#fff" stroke-width="2"/><use href="#bt" transform="translate(-4,-39) scale(1.2)"/><use href="#bt" transform="translate(-5,40) scale(0.95)"/><text class="b" x="-42" y="-4" font-size="24" fill="#1f6086" textLength="84" lengthAdjust="spacingAndGlyphs">Believe</text><text class="b" x="-43" y="24" font-size="24" fill="#1f6086">in</text><text class="s" x="-15" y="21" font-size="32" fill="#7a3493" textLength="64" lengthAdjust="spacingAndGlyphs">magic</text></g>
<g transform="translate(1408,742)"><circle r="70" fill="#a9dcd5"/><circle r="60" fill="none" stroke="#fff" stroke-width="2"/><use href="#bt" transform="translate(-4,-39) scale(1.2)"/><use href="#bt" transform="translate(-5,40) scale(0.95)"/><text class="b" x="-42" y="-4" font-size="24" fill="#1f6086" textLength="84" lengthAdjust="spacingAndGlyphs">Believe</text><text class="b" x="-43" y="24" font-size="24" fill="#1f6086">in</text><text class="s" x="-15" y="21" font-size="32" fill="#7a3493" textLength="64" lengthAdjust="spacingAndGlyphs">magic</text></g>

<!-- Friends forever -->
<g transform="translate(1115,888)"><circle r="70" fill="#e0506b"/><circle r="60" fill="none" stroke="#fff" stroke-width="2"/><use href="#lf" fill="#e8b84a" transform="translate(8,-40) scale(0.9)"/><use href="#bl" transform="translate(-5,37)"/><text class="b" x="-38" y="-8" font-size="22" fill="#fff" textLength="86" lengthAdjust="spacingAndGlyphs" transform="rotate(7)">FRIENDS</text><text class="s" x="-45" y="23" font-size="36" fill="#fff" textLength="92" lengthAdjust="spacingAndGlyphs" transform="rotate(4)">forever</text></g>
<g transform="translate(1262,888)"><circle r="70" fill="#e0506b"/><circle r="60" fill="none" stroke="#fff" stroke-width="2"/><use href="#lf" fill="#e8b84a" transform="translate(8,-40) scale(0.9)"/><use href="#bl" transform="translate(-5,37)"/><text class="b" x="-38" y="-8" font-size="22" fill="#fff" textLength="86" lengthAdjust="spacingAndGlyphs" transform="rotate(7)">FRIENDS</text><text class="s" x="-45" y="23" font-size="36" fill="#fff" textLength="92" lengthAdjust="spacingAndGlyphs" transform="rotate(4)">forever</text></g>
<g transform="translate(1408,888)"><circle r="70" fill="#e0506b"/><circle r="60" fill="none" stroke="#fff" stroke-width="2"/><use href="#lf" fill="#e8b84a" transform="translate(8,-40) scale(0.9)"/><use href="#bl" transform="translate(-5,37)"/><text class="b" x="-38" y="-8" font-size="22" fill="#fff" textLength="86" lengthAdjust="spacingAndGlyphs" transform="rotate(7)">FRIENDS</text><text class="s" x="-45" y="23" font-size="36" fill="#fff" textLength="92" lengthAdjust="spacingAndGlyphs" transform="rotate(4)">forever</text></g>
<g transform="translate(1113,1031)"><circle r="70" fill="#e0506b"/><circle r="60" fill="none" stroke="#fff" stroke-width="2"/><use href="#lf" fill="#e8b84a" transform="translate(8,-40) scale(0.9)"/><use href="#bl" transform="translate(-5,37)"/><text class="b" x="-38" y="-8" font-size="22" fill="#fff" textLength="86" lengthAdjust="spacingAndGlyphs" transform="rotate(7)">FRIENDS</text><text class="s" x="-45" y="23" font-size="36" fill="#fff" textLength="92" lengthAdjust="spacingAndGlyphs" transform="rotate(4)">forever</text></g>
<g transform="translate(1260,1031)"><circle r="70" fill="#e0506b"/><circle r="60" fill="none" stroke="#fff" stroke-width="2"/><use href="#lf" fill="#e8b84a" transform="translate(8,-40) scale(0.9)"/><use href="#bl" transform="translate(-5,37)"/><text class="b" x="-38" y="-8" font-size="22" fill="#fff" textLength="86" lengthAdjust="spacingAndGlyphs" transform="rotate(7)">FRIENDS</text><text class="s" x="-45" y="23" font-size="36" fill="#fff" textLength="92" lengthAdjust="spacingAndGlyphs" transform="rotate(4)">forever</text></g>
<g transform="translate(1407,1031)"><circle r="70" fill="#e0506b"/><circle r="60" fill="none" stroke="#fff" stroke-width="2"/><use href="#lf" fill="#e8b84a" transform="translate(8,-40) scale(0.9)"/><use href="#bl" transform="translate(-5,37)"/><text class="b" x="-38" y="-8" font-size="22" fill="#fff" textLength="86" lengthAdjust="spacingAndGlyphs" transform="rotate(7)">FRIENDS</text><text class="s" x="-45" y="23" font-size="36" fill="#fff" textLength="92" lengthAdjust="spacingAndGlyphs" transform="rotate(4)">forever</text></g>
</svg>
</body></html>
